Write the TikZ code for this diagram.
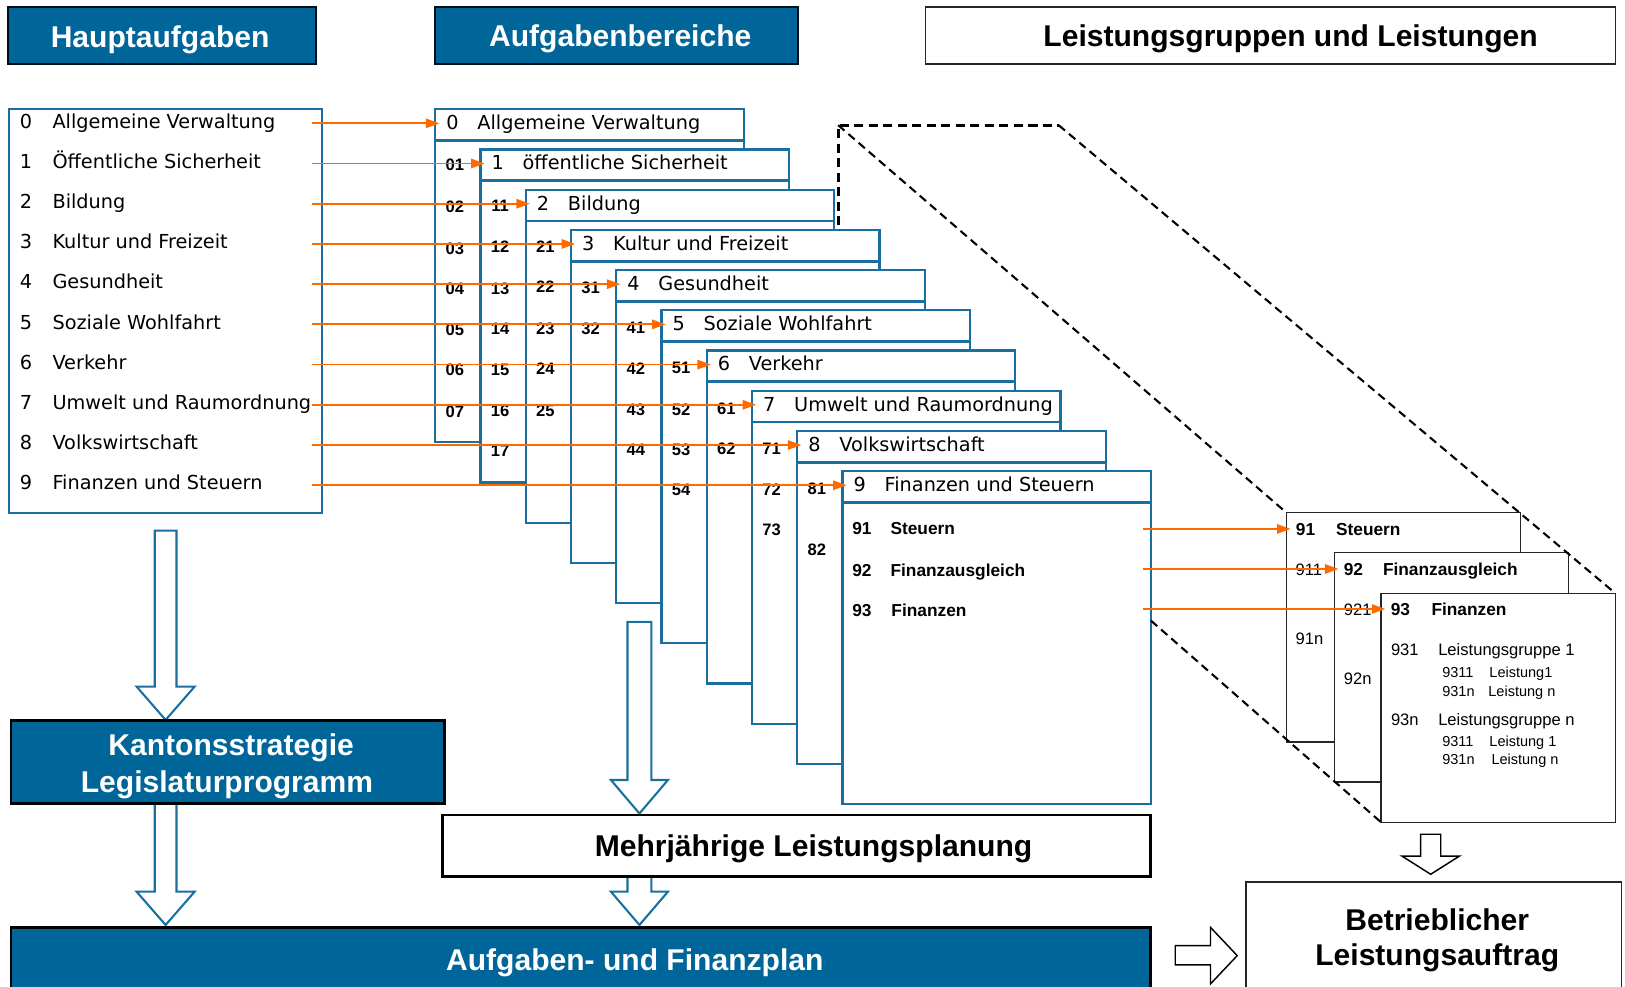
\documentclass[tikz,border=0pt]{standalone}
\usepackage{fontspec}
\setmainfont{Liberation Sans}
\newfontfamily\djv{DejaVu Sans}
\usetikzlibrary{arrows.meta,calc}
\definecolor{fillblue}{RGB}{0,102,153}
\definecolor{lineblue}{RGB}{26,111,160}
\definecolor{arrorange}{RGB}{255,106,0}
\newcommand\fTitle{\bfseries\fontsize{29}{34}\selectfont}
\newcommand\fItem{\djv\fontsize{18.6}{22}\selectfont}
\newcommand\fNum{\bfseries\fontsize{16}{19}\selectfont}
\newcommand\fSubB{\bfseries\fontsize{16.7}{20}\selectfont}
\newcommand\fSub{\fontsize{16}{19}\selectfont}
\newcommand\fSmall{\fontsize{14}{17}\selectfont}
% hollow block arrow pointing down: style, centre x, shaft half width, head half width, top, head top, tip
\newcommand\hdarrow[7]{%
  \draw[#1] ({#2-#3},#5) -- ({#2+#3},#5) -- ({#2+#3},#6) -- ({#2+#4},#6) -- (#2,#7)
    -- ({#2-#4},#6) -- ({#2-#3},#6) -- cycle;}
\begin{document}
\begin{tikzpicture}[x=1pt,y=-1pt,
  box/.style={draw, inner sep=0pt, outer sep=0pt, anchor=north west},
  headbox/.style={box, fill=fillblue, draw=black!85!fillblue, line width=2pt},
  ttl/.style={font=\fTitle, text height=20.8pt, text depth=0pt, inner sep=0pt},
  itm/.style={font=\fItem, text height=13.6pt, text depth=0pt, inner sep=0pt, anchor=west},
  num/.style={font=\fNum, text height=11.5pt, text depth=0pt, inner sep=0pt},
  subb/.style={font=\fSubB, text height=12pt, text depth=0pt, inner sep=0pt, anchor=west},
  subr/.style={font=\fSub, text height=11.5pt, text depth=0pt, inner sep=0pt, anchor=west},
  lsmall/.style={font=\fSmall, text height=10pt, text depth=0pt, inner sep=0pt, anchor=west},
  stackbox/.style={box, fill=white, draw=lineblue, line width=2.2pt,
    minimum width=297.7pt, minimum height=321.3pt},
  hdrline/.style={draw=lineblue, line width=2.6pt},
  rbox/.style={box, fill=white, draw=black!85, line width=1.5pt,
    minimum width=226pt, minimum height=221pt},
  oarr/.style={draw=arrorange, line width=1.7pt, -{Triangle[length=13pt,width=9pt]}, shorten >=-4pt},
  dsh/.style={draw=black, line width=2pt, dash pattern=on 8pt off 5pt},
  dshb/.style={draw=black, line width=3pt, dash pattern=on 9pt off 5pt},
  blockb/.style={draw=lineblue, fill=white, line width=2pt},
  blockk/.style={draw=black, fill=white, line width=1.4pt}]
\useasboundingbox (0,0) rectangle (1568,952);

% column headings
\node[headbox, minimum width=297pt, minimum height=55pt] (haupt) at (8,7) {};
\node[ttl, text=white] (hauptT) at (154.5,35) {Hauptaufgaben};
\node[headbox, minimum width=350pt, minimum height=55pt] (aufg) at (420,7) {};
\node[ttl, text=white] (aufgT) at (598.5,34.6) {Aufgabenbereiche};
\node[box, fill=white, draw=black!85, line width=1.5pt, minimum width=666pt, minimum height=55pt] (leist) at (893,7) {};
\node[ttl] (leistT) at (1245.3,34.2) {Leistungsgruppen und Leistungen};

% list of main tasks
\node[box, fill=white, draw=lineblue, line width=2.2pt, minimum width=301.8pt, minimum height=389.8pt] (list) at (8.6,104.9) {};
\foreach \i/\lbl in {0/Allgemeine Verwaltung,1/Öffentliche Sicherheit,2/Bildung,3/Kultur und Freizeit,
  4/Gesundheit,5/Soziale Wohlfahrt,6/Verkehr,7/Umwelt und Raumordnung,8/Volkswirtschaft,9/Finanzen und Steuern}{
  \node[itm] (ln\i) at (19,{116.8+38.8*\i}) {\i};
  \node[itm] (lt\i) at (50.5,{116.8+38.8*\i}) {\lbl};
  \coordinate (ls\i) at (301,{119+38.8*\i});
}

% stacked task areas
\foreach \i/\lbl in {0/Allgemeine Verwaltung,1/öffentliche Sicherheit,2/Bildung,3/Kultur und Freizeit,
  4/Gesundheit,5/Soziale Wohlfahrt,6/Verkehr,7/Umwelt und Raumordnung,8/Volkswirtschaft,9/Finanzen und Steuern}{
  \pgfmathsetmacro\bx{420+43.66*\i}
  \pgfmathsetmacro\by{105.5+38.78*\i}
  \node[stackbox] (ab\i) at (\bx,\by) {};
  \draw[hdrline] ([yshift=-30.2pt]ab\i.north west) -- ([yshift=-30.2pt]ab\i.north east);
  \node[itm] (abn\i) at ({\bx+10.6},{\by+12.9}) {\i};
  \node[itm] (abt\i) at ({\bx+40.5},{\by+12.9}) {\lbl};
}
\foreach \i/\nm/\yy in {0/01/159,0/02/199.4,0/03/239.6,0/04/278.9,0/05/318.4,0/06/357,0/07/397.2,
  1/11/198.6,1/12/238,1/13/278.2,1/14/317.1,1/15/356.7,1/16/396.6,1/17/435.2,
  2/21/238,2/22/276.6,2/23/317,2/24/355.7,2/25/395.9,
  3/31/277.2,3/32/316.8,
  4/41/315.8,4/42/356,4/43/395.3,4/44/434.2,
  5/51/354.4,5/52/395,5/53/433.8,5/54/472.8,
  6/61/394,6/62/432.6,
  7/71/432.6,7/72/472,7/73/511.4,
  8/81/471.2,8/82/530}{
  \node[num] (sn\nm) at ({420+43.66*\i+18.9},\yy) {\nm};
}
% contents of area 9
\node[subb] (f91) at (822.2,509.8) {91};
\node[subb] (f91t) at (859.1,509.8) {Steuern};
\node[subb] (f92) at (822.2,550) {92};
\node[subb] (f92t) at (859.1,550) {Finanzausgleich};
\node[subb] (f93) at (822.2,588.6) {93};
\node[subb] (f93t) at (860,588.6) {Finanzen};
\coordinate (q1) at (1102.7,510.4);
\coordinate (q2) at (1102.7,549);
\coordinate (q3) at (1102.7,587.6);

% magnifying outline
\coordinate (dA) at (808.8,120.8);
\coordinate (dB) at (1021.5,120.8);
\coordinate (dC) at (808.8,217.5);
\coordinate (dD) at (1110.6,598.9);

% service groups
\node[rbox] (rb1) at (1241.3,494.7) {};
\node[subb] (g91) at (1250.3,510.7) {91};
\node[subb] (g91t) at (1289,510.7) {Steuern};
\node[subr] (g911) at (1250,549.3) {911};
\node[subr] (g91n) at (1250,615.9) {91n};
\node[rbox] (rb2) at (1287.5,533.3) {};
\node[subb] (g92) at (1296.5,549) {92};
\node[subb] (g92t) at (1334.3,549) {Finanzausgleich};
\node[subr] (g921) at (1296.5,588.6) {921};
\node[subr] (g92n) at (1296.5,654.5) {92n};
\node[rbox] (rb3) at (1332.7,572.5) {};
\node[subb] (g93) at (1341.8,588) {93};
\node[subb] (g93t) at (1381.1,588) {Finanzen};
\node[subr] (g931) at (1342,627.2) {931};
\node[subr] (g931t) at (1387.6,627.2) {Leistungsgruppe 1};
\node[lsmall] (h1a) at (1391.5,649) {9311};
\node[lsmall] (h1b) at (1437,649) {Leistung1};
\node[lsmall] (h2a) at (1391.5,666.7) {931n};
\node[lsmall] (h2b) at (1436,666.7) {Leistung n};
\node[subr] (g93n) at (1342,694) {93n};
\node[subr] (g93nt) at (1387.6,694) {Leistungsgruppe n};
\node[lsmall] (h3a) at (1391.5,715) {9311};
\node[lsmall] (h3b) at (1437,715) {Leistung 1};
\node[lsmall] (h4a) at (1391.5,732.3) {931n};
\node[lsmall] (h4b) at (1439,732.3) {Leistung n};

\draw[dshb] (dC) -- (dA) -- (dB);
\draw[dsh] (dA) -- (rb1.north west);
\draw[dsh] (dB) -- (rb3.north east);
\draw[dsh] (dD) -- (rb3.south west);

% orange links
\foreach \i in {0,...,9}{
  \draw[oarr] (ls\i) -- (ls\i -| ab\i.west);
}
\draw[oarr] (q1) -- (q1 -| rb1.west);
\draw[oarr] (q2) -- (q2 -| rb2.west);
\draw[oarr] (q3) -- (q3 -| rb3.west);

% block arrows
\hdarrow{blockb}{159.8}{10.5}{28}{512}{662.5}{694.7}
\hdarrow{blockb}{159.8}{10.5}{28}{775}{860.4}{892.5}
\hdarrow{blockb}{617}{11.5}{27.5}{600}{752.6}{785}
\hdarrow{blockb}{617}{11.5}{27.5}{846}{860.4}{892.5}
\hdarrow{blockk}{1380.5}{9.7}{27.8}{805}{826}{843.6}
\draw[blockk] (1134,912.5) -- (1168,912.5) -- (1168,894.8) -- (1193.8,922.1)
  -- (1168,949.4) -- (1168,931.1) -- (1134,931.1) -- cycle;

% planning boxes
\node[box, fill=fillblue, draw=black, line width=2.8pt, minimum width=418.1pt, minimum height=79.7pt] (kanton) at (10.6,695.4) {};
\node[ttl, text=white] (kantonA) at (223,718.8) {Kantonsstrategie};
\node[ttl, text=white] (kantonB) at (219,754.7) {Legislaturprogramm};
\node[box, fill=white, draw=black, line width=2.5pt, minimum width=683pt, minimum height=59.5pt] (mehr) at (427,786.4) {};
\node[ttl] (mehrT) at (785,815.6) {Mehrjährige Leistungsplanung};
\node[box, fill=fillblue, draw=black, line width=2.8pt, minimum width=1099.4pt, minimum height=80pt] (plan) at (10.6,895) {};
\node[ttl, text=white] (planT) at (612.5,926.3) {Aufgaben- und Finanzplan};
\node[box, fill=white, draw=black!85, line width=1.8pt, minimum width=362.7pt, minimum height=120pt] (betr) at (1201.9,851.3) {};
\node[ttl] (betrA) at (1386.8,887.4) {Betrieblicher};
\node[ttl] (betrB) at (1386.8,921.5) {Leistungsauftrag};
\end{tikzpicture}
\end{document}
